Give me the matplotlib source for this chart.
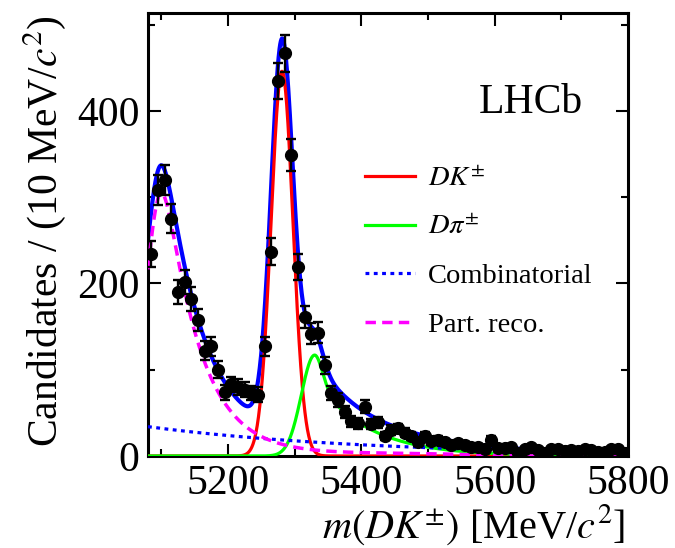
import numpy as np
import matplotlib
matplotlib.use("Agg")
import matplotlib.pyplot as plt
from matplotlib.ticker import MultipleLocator

# ---------------- data ----------------
bin_lo, bin_hi, bin_w = 5080, 5800, 10
counts = [234, 308, 320, 275, 190, 202, 182, 158, 122, 127,
          100, 74, 83, 80, 77, 73, 71, 127, 237, 435,
          467, 349, 219, 161, 142, 143, 105, 73, 65, 51,
          40, 38, 57, 37, 39, 23, 30, 32, 27, 23,
          16, 23, 17, 19, 16, 13, 15, 13, 11, 11,
          8, 19, 9, 9, 10, 3, 8, 10, 7, 3,
          8, 8, 6, 7, 6, 8, 7, 5, 5, 8,
          8, 4]

# fit component parameters
dk_par = [446, 5281, 16.5]                       # amplitude, mean, sigma
dpi_par = [117, 5330, 20, 0.3, 12, 78, 8]        # amp, mean, sigL, core frac, sigR, tau, c
comb_par = [34, 0.003]                           # value at 5080, slope
preco_par = [302, 5100, 24, 50, 14, 3, 5560, 30] # amp, peak, sigL, tau, c, tail, tail end, tail width

legend_labels = [r"$DK^{\pm}$", r"$D\pi^{\pm}$", "Combinatorial", "Part. reco."]

# ---------------- model shapes ----------------
def dk_shape(x, a, m, s):
    return a * np.exp(-0.5 * ((x - m) / s) ** 2)

def dpi_shape(x, a, m, sl, f, sr, tau, c):
    d = x - m
    left = np.exp(-0.5 * (d / sl) ** 2)
    right = f * np.exp(-0.5 * (d / sr) ** 2) + (1 - f) * np.exp(-(np.sqrt(d ** 2 + c ** 2) - c) / tau)
    return a * np.where(d < 0, left, right)

def comb_shape(x, a, k):
    return a * np.exp(-k * (x - bin_lo))

def preco_shape(x, a, m, sl, tau, c, t, te, tw):
    d = x - m
    left = np.exp(-0.5 * (d / sl) ** 2)
    right = np.exp(-(np.sqrt(d ** 2 + c ** 2) - c) / tau)
    return a * np.where(d < 0, left, right) + t / (1 + np.exp((x - te) / tw))

# ---------------- style ----------------
plt.rcParams['font.family'] = ['Liberation Serif', 'DejaVu Serif']
plt.rcParams['mathtext.fontset'] = 'stix'

fig = plt.figure(figsize=(6.75, 5.48), dpi=100)
ax = fig.add_axes([148 / 675, 1 - 456 / 548, 480 / 675, 443 / 548])

xs = np.linspace(bin_lo, bin_hi, 1500)
y_dk = dk_shape(xs, *dk_par)
y_dpi = dpi_shape(xs, *dpi_par)
y_comb = comb_shape(xs, *comb_par)
y_preco = preco_shape(xs, *preco_par)
y_tot = y_dk + y_dpi + y_comb + y_preco

ax.plot(xs, y_tot, color='#0000ff', lw=3.0, zorder=2)
l1, = ax.plot(xs, y_dk, color='#ff0000', lw=2.3, zorder=3)
l2, = ax.plot(xs, y_dpi, color='#00ff00', lw=2.3, zorder=3)
l3, = ax.plot(xs, y_comb, color='#0000ff', lw=2.3, ls=(0, (1.2, 1.4)), zorder=3)
l4, = ax.plot(xs, y_preco, color='#ff00ff', lw=2.5, ls=(0, (3.0, 1.8)), zorder=3)

centers = np.arange(bin_lo + bin_w / 2, bin_hi, bin_w)
cnt = np.array(counts, dtype=float)
ax.errorbar(centers, cnt, yerr=np.sqrt(cnt), fmt='o', color='black', ms=8.5,
            elinewidth=1.7, capsize=3.5, capthick=1.7, zorder=5)

ax.set_xlim(bin_lo, bin_hi)
ax.set_ylim(0, 513.6)

ax.xaxis.set_major_locator(MultipleLocator(200))
ax.xaxis.set_minor_locator(MultipleLocator(100))
ax.yaxis.set_major_locator(MultipleLocator(200))
ax.yaxis.set_minor_locator(MultipleLocator(100))
ax.tick_params(which='both', direction='in', top=True, right=True, width=1.5,
               labelsize=30)
ax.tick_params(which='major', length=9)
ax.tick_params(which='minor', length=5)
ax.tick_params(axis='x', pad=6)
ax.tick_params(axis='y', pad=6)
for sp in ax.spines.values():
    sp.set_linewidth(2.2)

ax.set_xlabel(r"$m(DK^{\pm})$ [MeV/$c^{2}$]", fontsize=29, ha='right', va='center')
ax.xaxis.set_label_coords(0.994, -0.155)
ax.set_ylabel(r"Candidates / (10 MeV/$c^{2}$)", fontsize=30, ha='right', va='center')
ax.yaxis.set_label_coords(-0.215, 0.995)

ax.text(0.906, 0.797, "LHCb", transform=ax.transAxes, fontsize=30,
        ha='right', va='center')

ax.legend([l1, l2, l3, l4], legend_labels, loc='upper left',
          bbox_to_anchor=(0.452, 0.655), frameon=False, fontsize=20.5,
          handlelength=1.75, handletextpad=0.45, labelspacing=0.8,
          borderpad=0, borderaxespad=0)

fig.savefig("out.png", dpi=100)
